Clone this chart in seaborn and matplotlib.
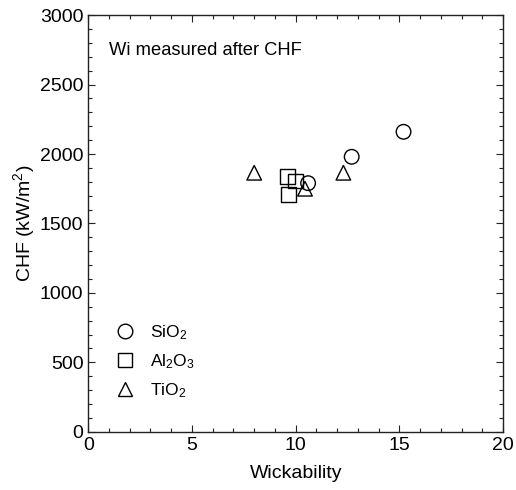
import matplotlib
matplotlib.use("Agg")
import matplotlib.pyplot as plt
from matplotlib.lines import Line2D
from matplotlib.ticker import MultipleLocator
import pandas as pd
import seaborn as sns

# Wickability vs. critical heat flux for three nanoparticle coatings
sio2_wi = [15.2, 12.7, 10.6]
sio2_chf = [2160, 1980, 1790]
al2o3_wi = [9.6, 10.0, 9.65]
al2o3_chf = [1840, 1805, 1710]
tio2_wi = [8.0, 12.3, 10.45]
tio2_chf = [1865, 1865, 1750]

materials = ["SiO$_2$", "Al$_2$O$_3$", "TiO$_2$"]
marker_map = {"SiO$_2$": "o", "Al$_2$O$_3$": "s", "TiO$_2$": "^"}

df = pd.DataFrame({
    "Wickability": sio2_wi + al2o3_wi + tio2_wi,
    "CHF": sio2_chf + al2o3_chf + tio2_chf,
    "Material": [materials[0]] * len(sio2_wi)
    + [materials[1]] * len(al2o3_wi)
    + [materials[2]] * len(tio2_wi),
})

sns.set_style("ticks")
plt.rcParams["font.family"] = ["Liberation Sans", "DejaVu Sans"]
plt.rcParams["mathtext.fontset"] = "custom"
plt.rcParams["mathtext.rm"] = "Liberation Sans"
plt.rcParams["mathtext.it"] = "Liberation Sans"
plt.rcParams["mathtext.default"] = "regular"
plt.rcParams["text.color"] = "black"
plt.rcParams["axes.labelcolor"] = "black"
plt.rcParams["xtick.color"] = "black"
plt.rcParams["ytick.color"] = "black"

fig = plt.figure(figsize=(5.16, 4.9), dpi=100)
ax = fig.add_axes([0.171, 0.119, 0.804, 0.850])

sns.scatterplot(
    data=df, x="Wickability", y="CHF", style="Material", markers=marker_map,
    s=110, facecolor="none", edgecolor="black", linewidth=1.0,
    legend=False, ax=ax,
)

ax.set_xlim(0, 20)
ax.set_ylim(0, 3000)
ax.xaxis.set_major_locator(MultipleLocator(5))
ax.xaxis.set_minor_locator(MultipleLocator(1))
ax.yaxis.set_major_locator(MultipleLocator(500))
ax.yaxis.set_minor_locator(MultipleLocator(100))
ax.tick_params(which="both", direction="in", top=True, right=True,
               width=0.8, colors="#222222", labelcolor="black")
ax.tick_params(which="major", length=5, labelsize=14)
ax.tick_params(which="minor", length=3)
for sp in ax.spines.values():
    sp.set_linewidth(1.0)
    sp.set_color("#222222")

ax.set_xlabel("Wickability", fontsize=14, labelpad=8)
ax.set_ylabel("CHF (kW/m$^2$)", fontsize=14, labelpad=2)

ax.text(0.05, 0.915, "Wi measured after CHF", transform=ax.transAxes,
        fontsize=13.2, va="center", ha="left")

handles = [
    Line2D([], [], linestyle="none", marker=marker_map[m], markersize=10.5,
           markerfacecolor="none", markeredgecolor="black",
           markeredgewidth=1.0, label=m)
    for m in materials
]
ax.legend(handles=handles, loc="lower left", bbox_to_anchor=(0.03, 0.06),
          frameon=False, fontsize=12.5, handletextpad=0.45,
          labelspacing=0.6, borderaxespad=0.0)

fig.savefig("out.png", dpi=100)
